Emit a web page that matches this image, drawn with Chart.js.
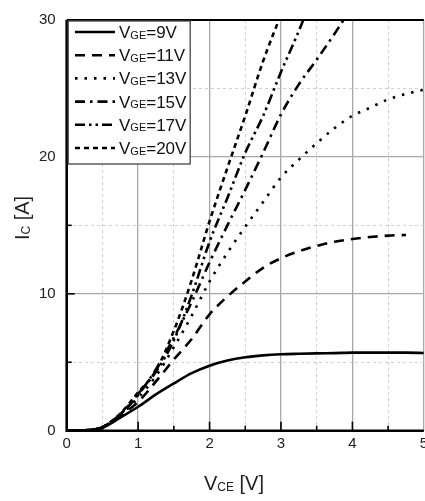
<!DOCTYPE html>
<html>
<head>
<meta charset="utf-8">
<script src="https://cdn.jsdelivr.net/npm/chart.js@4/dist/chart.umd.min.js"></script>
<style>
  html, body { margin: 0; padding: 0; background: #fff; overflow: hidden; }
  #wrap { width: 432px; height: 501px; }
</style>
</head>
<body>
<div id="wrap"><canvas id="ivChart"></canvas></div>
<script>
// collector-emitter voltage (V)
const vce = [0, 0.2, 0.4, 0.5, 0.75, 1, 1.25, 1.5, 1.75, 2, 2.25, 2.5, 2.75, 3, 3.25, 3.5, 3.75, 4, 4.25, 4.5, 4.75, 5];

// collector current (A) per gate voltage, null = no data
const ic9  = [0, 0.02, 0.08, 0.2, 0.95, 1.75, 2.65, 3.45, 4.2, 4.75, 5.12, 5.36, 5.5, 5.58, 5.62, 5.65, 5.67, 5.7, 5.7, 5.7, 5.7, 5.68];
const ic11 = [0, 0.02, 0.1, 0.25, 1.1, 2.1, 3.6, 5.2, 6.7, 8.5, 9.8, 10.9, 11.9, 12.6, 13.1, 13.5, 13.8, 14.0, 14.15, 14.25, 14.3, null];
const ic13 = [0, 0.02, 0.1, 0.25, 1.15, 2.4, 4.0, 6.1, 8.4, 10.9, 13.0, 14.9, 16.7, 18.5, 19.8, 21.0, 22.1, 23.0, 23.6, 24.2, 24.6, 24.9];
const ic15 = [0, 0.02, 0.1, 0.25, 1.2, 2.6, 4.5, 6.8, 9.4, 12.3, 15.0, 17.6, 20.3, 23.1, 25.3, 27.1, 29.0, 31.0, null, null, null, null];
const ic17 = [0, 0.02, 0.1, 0.25, 1.2, 2.7, 4.3, 6.6, 9.9, 13.8, 17.0, 20.3, 23.0, 26.2, 29.2, 32.5, null, null, null, null, null, null];
const ic20 = [0, 0.02, 0.1, 0.25, 1.25, 2.8, 4.4, 7.3, 11.0, 15.3, 19.2, 23.0, 27.0, 30.4, null, null, null, null, null, null, null, null];

const gateLabels = ['9V', '11V', '13V', '15V', '17V', '20V'];
const dashes = [[], [10, 7], [2.5, 7], [10, 5, 2.5, 5], [10, 4, 2.5, 4, 2.5, 4], [5, 4]];

const xTicks = [0, 1, 2, 3, 4, 5];
const yTicks = [0, 10, 20, 30];

const FONT = '"Liberation Sans", Arial, sans-serif';

function toPoints(arr) {
  const pts = [];
  arr.forEach((v, i) => { if (v !== null) pts.push({x: vce[i], y: v}); });
  return pts;
}

const series = [ic9, ic11, ic13, ic15, ic17, ic20];
const datasets = series.map((s, i) => ({
  label: 'VGE=' + gateLabels[i],
  data: toPoints(s),
  borderColor: '#000',
  borderWidth: 2.6,
  borderDash: dashes[i],
  pointRadius: 0,
  fill: false,
  cubicInterpolationMode: 'monotone'
}));

// axes frame, inward ticks, axis titles and the legend box
const decorations = {
  id: 'decorations',
  afterDraw(chart) {
    const c = chart.ctx;
    const a = chart.chartArea;
    const xs = chart.scales.x, ys = chart.scales.y;
    c.save();
    c.strokeStyle = '#000';
    c.lineCap = 'butt';

    // inward ticks
    c.lineWidth = 1.6;
    for (let v = 0.5; v < 5; v += 0.5) {
      const px = xs.getPixelForValue(v);
      const len = v % 1 === 0 ? 9 : 5;
      c.beginPath(); c.moveTo(px, a.bottom); c.lineTo(px, a.bottom - len); c.stroke();
    }
    for (let v = 5; v < 30; v += 5) {
      const py = ys.getPixelForValue(v);
      const len = v % 10 === 0 ? 8 : 5;
      c.beginPath(); c.moveTo(a.left, py); c.lineTo(a.left + len, py); c.stroke();
    }

    // frame
    c.lineWidth = 2.6;
    c.beginPath(); c.moveTo(a.left, a.top); c.lineTo(a.left, a.bottom); c.lineTo(a.right, a.bottom); c.stroke();
    c.lineWidth = 2;
    c.beginPath(); c.moveTo(a.left, a.top); c.lineTo(a.right, a.top); c.stroke();

    // text with a small subscript part
    function subText(parts, cx, cy) {
      let w = 0;
      parts.forEach(p => { c.font = p[1] + 'px ' + FONT; w += c.measureText(p[0]).width; });
      let x = cx - w / 2;
      c.textBaseline = 'alphabetic';
      c.textAlign = 'left';
      parts.forEach(p => {
        c.font = p[1] + 'px ' + FONT;
        c.fillText(p[0], x, cy + (p[2] || 0));
        x += c.measureText(p[0]).width;
      });
    }
    c.fillStyle = '#222';
    subText([['V', 20], ['CE', 12, 1], [' [V]', 20]], 234, 490);
    c.save();
    c.translate(29, 218);
    c.rotate(-Math.PI / 2);
    subText([['I', 20], ['C', 12, 1], [' [A]', 20]], 0, 0);
    c.restore();

    // legend
    const lx = a.left + 1.5, ly = a.top + 1, lw = 122, lh = 143;
    c.fillStyle = '#fff';
    c.fillRect(lx, ly, lw, lh);
    c.strokeStyle = '#444';
    c.lineWidth = 1.3;
    c.strokeRect(lx, ly, lw, lh);
    chart.data.datasets.forEach((ds, i) => {
      const yy = 32 + i * 23.2;
      c.strokeStyle = '#000';
      c.lineWidth = 2.6;
      c.setLineDash(ds.borderDash);
      c.beginPath(); c.moveTo(75, yy); c.lineTo(115, yy); c.stroke();
      c.setLineDash([]);
      c.fillStyle = '#111';
      c.textAlign = 'left';
      c.textBaseline = 'alphabetic';
      let x = 119;
      c.font = '17px ' + FONT; c.fillText('V', x, yy + 6); x += c.measureText('V').width;
      c.font = '11px ' + FONT; c.fillText('GE', x, yy + 6.5); x += c.measureText('GE').width;
      c.font = '17px ' + FONT; c.fillText('=' + gateLabels[i], x, yy + 6);
    });
    c.restore();
  }
};

const ctx = document.getElementById('ivChart').getContext('2d');
const ivChart = new Chart(ctx, {
  type: 'line',
  data: { datasets: datasets },
  options: {
    responsive: true,
    maintainAspectRatio: false,
    animation: false,
    layout: { padding: { top: 15, left: 0, right: 0, bottom: 0 } },
    plugins: {
      legend: { display: false },
      tooltip: { enabled: false }
    },
    scales: {
      x: {
        type: 'linear',
        min: 0,
        max: 5,
        afterFit(scale) { scale.height = 70.3; },
        ticks: {
          stepSize: 0.5,
          padding: 4,
          color: '#222',
          font: { family: FONT, size: 15 },
          callback: v => (xTicks.includes(v) ? String(v) : '')
        },
        grid: {
          drawTicks: false,
          color: c => (c.tick && c.tick.value % 1 === 0 ? '#a8a8a8' : '#d0d0d0'),
          lineWidth: c => (c.tick && c.tick.value % 1 === 0 ? 1.3 : 1)
        },
        border: {
          display: false,
          dash: c => (c.tick && c.tick.value % 1 === 0 ? [] : [3, 3])
        }
      },
      y: {
        min: 0,
        max: 30,
        afterFit(scale) { scale.width = 66.7; },
        ticks: {
          stepSize: 5,
          padding: 11,
          color: '#222',
          font: { family: FONT, size: 15 },
          callback: v => (yTicks.includes(v) ? String(v) : '')
        },
        grid: {
          drawTicks: false,
          color: c => (c.tick && c.tick.value % 10 === 0 ? '#a8a8a8' : '#d0d0d0'),
          lineWidth: c => (c.tick && c.tick.value % 10 === 0 ? 1.3 : 1)
        },
        border: {
          display: false,
          dash: c => (c.tick && c.tick.value % 10 === 0 ? [] : [3, 3])
        }
      }
    }
  },
  plugins: [decorations]
});
</script>
</body>
</html>
